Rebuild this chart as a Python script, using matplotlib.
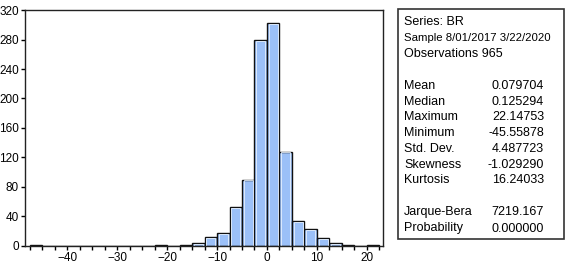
import numpy as np
import matplotlib.pyplot as plt
from matplotlib.patches import Rectangle

plt.rcParams['font.family'] = ['Liberation Sans', 'DejaVu Sans']

# Histogram bins (width 2.5) and counts
bin_left = np.arange(-47.5, 22.5, 2.5)
counts = [1, 0, 0, 0, 0, 0, 0, 0, 0, 0,
          1, 0, 1, 4, 12, 17, 53, 90, 279, 303,
          128, 34, 23, 10, 4, 1, 0, 1]
bin_width = 2.5

stat_names = ['Mean', 'Median', 'Maximum', 'Minimum', 'Std. Dev.',
              'Skewness', 'Kurtosis']
stat_values = ['0.079704', '0.125294', '22.14753', '-45.55878', '4.487723',
               '-1.029290', '16.24033']
test_names = ['Jarque-Bera', 'Probability']
test_values = ['7219.167', '0.000000']
header = ['Series: BR', 'Sample 8/01/2017 3/22/2020', 'Observations 965']

fig = plt.figure(figsize=(5.67, 2.66), dpi=100)
ax = fig.add_axes([0.044, 0.076, 0.631, 0.886])

ax.bar(bin_left, counts, width=bin_width, align='edge',
       color='#9BC0F8', edgecolor='#111111', linewidth=1.0)
# light inner highlight like the original
ax.bar(bin_left + 0.35, np.maximum(np.array(counts) - 1.2, 0), width=bin_width - 0.7,
       align='edge', color='none', edgecolor='#E8F2FF', linewidth=0.6)

ax.set_xlim(-48.5, 23.2)
ax.set_ylim(0, 320)
ax.set_yticks(np.arange(0, 321, 40))
ax.set_xticks(np.arange(-40, 21, 10))
ax.set_xticks(np.arange(-47.5, 22.6, 2.5), minor=True)
ax.tick_params(axis='both', labelsize=8.5, length=3, width=1, pad=1.5)
ax.tick_params(axis='x', which='minor', length=3, width=1)
ax.tick_params(axis='y', which='minor', length=0)
for s in ax.spines.values():
    s.set_linewidth(1.0)
    s.set_color('#222222')

# Statistics box
fig.patches.append(Rectangle((0.702, 0.103), 0.293, 0.864, transform=fig.transFigure,
                             fill=False, edgecolor='#333333', linewidth=1.2))

x_lab = 404 / 567
x_val = 544 / 567
fs = 9
y_px = 22
for line in header:
    size = 8.2 if line.startswith('Sample') else fs
    fig.text(x_lab, 1 - y_px / 266, line, fontsize=size, va='center', ha='left')
    y_px += 16
y_px = 86
for name, val in zip(stat_names, stat_values):
    fig.text(x_lab, 1 - y_px / 266, name, fontsize=fs, va='center', ha='left')
    fig.text(x_val, 1 - y_px / 266, val, fontsize=fs, va='center', ha='right')
    y_px += 15.7
y_px = 212
for name, val in zip(test_names, test_values):
    fig.text(x_lab, 1 - y_px / 266, name, fontsize=fs, va='center', ha='left')
    fig.text(x_val, 1 - y_px / 266, val, fontsize=fs, va='center', ha='right')
    y_px += 16.5

fig.savefig('out.png', dpi=100)
